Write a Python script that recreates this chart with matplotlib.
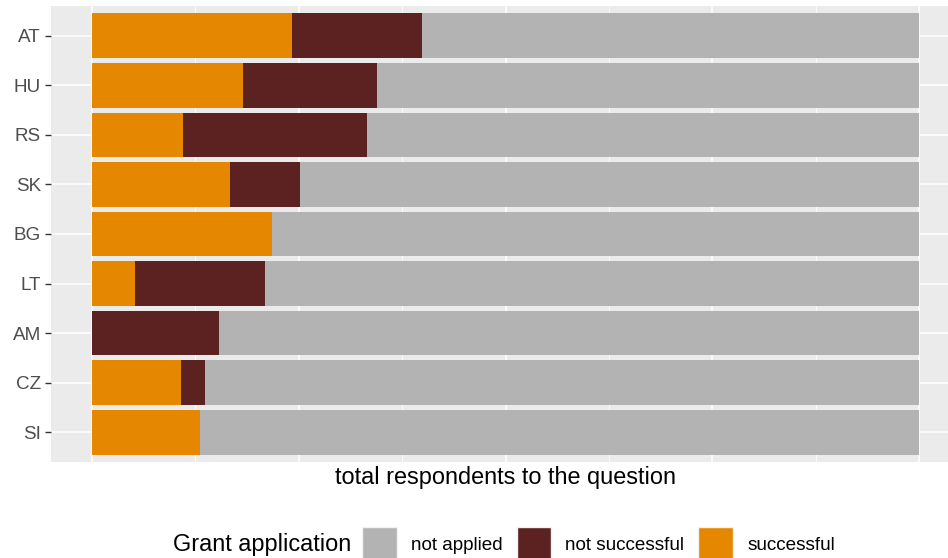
import numpy as np
import matplotlib.pyplot as plt
from matplotlib.patches import Patch

plt.rcParams['font.family'] = ['Liberation Sans', 'DejaVu Sans']

# shares of respondents per country (top to bottom as in the chart)
countries = ['AT', 'HU', 'RS', 'SK', 'BG', 'LT', 'AM', 'CZ', 'SI']
successful = [0.242, 0.182, 0.110, 0.167, 0.218, 0.052, 0.000, 0.108, 0.130]
not_successful = [0.157, 0.163, 0.223, 0.084, 0.000, 0.157, 0.154, 0.029, 0.000]
not_applied = [1 - s - n for s, n in zip(successful, not_successful)]

col_succ = '#E68700'
col_nsucc = '#5C2222'
col_napp = '#B3B3B3'

small = 13.6
big = 16.9

W, H = 948, 558
fig = plt.figure(figsize=(W / 100, H / 100), dpi=100)
# panel runs a bit past the right edge, as in the reference
ax = fig.add_axes([50.7 / W, 1 - 462 / H, 909.6 / W, 456 / H])
ax.set_facecolor('#EBEBEB')

y = np.arange(len(countries))[::-1] + 1
s = np.array(successful)
n = np.array(not_successful)
a = np.array(not_applied)

ax.barh(y, s, height=0.9, color=col_succ, zorder=3)
ax.barh(y, n, left=s, height=0.9, color=col_nsucc, zorder=3)
ax.barh(y, a, left=s + n, height=0.9, color=col_napp, zorder=3)

ax.set_xlim(-0.05, 1.05)
ax.set_ylim(0.4, len(countries) + 0.6)
ax.set_yticks(y)
ax.set_yticklabels(countries)
ax.set_xticks([0, 0.25, 0.5, 0.75, 1.0])
ax.set_xticks([0.125, 0.375, 0.625, 0.875], minor=True)
ax.tick_params(axis='x', which='both', length=0, labelbottom=False)
ax.tick_params(axis='y', length=4, width=1, color='#333333', pad=3,
               labelsize=small, labelcolor='#4D4D4D')
ax.grid(True, which='major', color='white', linewidth=1.1, zorder=1)
ax.grid(True, which='minor', axis='x', color='white', linewidth=0.55, zorder=1)
ax.set_axisbelow(True)
for sp in ax.spines.values():
    sp.set_visible(False)

ax.set_xlabel('total respondents to the question', fontsize=big, color='black')
ax.xaxis.label.set_va('baseline')
ax.xaxis.set_label_coords(0.5, (462 - 484) / 456)

# legend
handles = [Patch(facecolor=col_napp, edgecolor='#F2F2F2', linewidth=1),
           Patch(facecolor=col_nsucc, edgecolor='#F2F2F2', linewidth=1),
           Patch(facecolor=col_succ, edgecolor='#F2F2F2', linewidth=1)]
labels = ['not applied', 'not successful', 'successful']
fig.legend(handles, labels, loc='center left', bbox_to_anchor=(362 / W, (H - 544) / H),
           ncol=3, frameon=False, fontsize=small, handlelength=1.85, handleheight=2.47,
           handletextpad=0.74, columnspacing=0.74, borderpad=0, borderaxespad=0)
fig.text(173 / W, (H - 551) / H, 'Grant application', fontsize=big, va='baseline')

fig.savefig('out.png', dpi=100)
